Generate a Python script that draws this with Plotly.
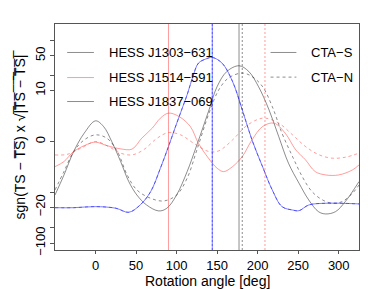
import numpy as np
import plotly.graph_objects as go

# ---------------- data ----------------
x_j1303_s = [-50, -39, -27, -14, 0, 10, 20, 31, 41, 51, 63, 78, 88, 100, 113, 125, 140, 150, 162, 177,
             189, 201, 214, 226, 238, 251, 263, 275, 284, 296, 308, 325]
y_j1303_s = [-11.2, -4.0, -0.66, 0.53, 1.77, 1.11, 0.0, -1.68, -5.7, -11.2, -18.0, -23.7, -20.9, -11.2,
             -3.26, -0.19, 3.6, 12.1, 24.5, 31.8, 24.5, 12.1, 3.6, 0.29, -1.89, -6.2, -14.2, -24.5,
             -27.2, -24.5, -15.4, -5.7]

x_j1303_n = [-50, -39, -27, -14, 0, 14, 27, 39, 51, 68, 84, 100, 113, 125, 140, 152, 164, 181, 193,
             206, 218, 230, 243, 255, 267, 280, 292, 304, 317, 325]
y_j1303_n = [-8.75, -3.26, -0.66, 0.09, 0.41, 0.19, -0.66, -3.96, -8.75, -13.1, -14.9, -11.2, -4.75,
             -0.53, 2.96, 10.3, 18.1, 22.8, 19.4, 12.1, 4.35, 0.53, -1.11, -4.35, -9.5, -14.2, -16.6,
             -15.4, -10.3, -6.8]

x_j1514_s = [-50, -39, -27, -10, 0, 14, 31, 45, 57, 70, 80, 90, 103, 117, 127, 139, 150, 158, 169,
             181, 193, 206, 220, 234, 247, 259, 271, 284, 300, 317, 325]
y_j1514_s = [-2.39, -1.68, -0.66, -0.15, -0.03, -0.23, -0.45, -0.47, 0.19, 0.96, 2.14, 2.96, 2.39,
             1.11, -0.1, -1.25, -2.65, -3.26, -2.39, -1.11, 0.09, 1.11, 1.49, 0.53, -0.53, -1.47,
             -3.26, -3.96, -3.96, -2.94, -2.13]

x_j1514_n = [-50, -35, -18, 0, 16, 31, 45, 59, 76, 90, 105, 121, 140, 152, 169, 185, 201, 210, 226,
             243, 259, 276, 292, 308, 325]
y_j1514_n = [-0.95, -0.9, -0.40, 0.0, -0.29, -0.79, -0.95, -0.53, 0.19, 0.58, 0.41, -0.09, -0.66,
             -0.6, 0.09, 1.11, 2.0, 2.14, 1.49, 0.41, -0.29, -0.95, -1.28, -1.18, -0.79]

x_j1837 = [-50, -27, 0, 25, 41, 55, 68, 80, 90, 98, 107, 113, 120, 127, 136, 144, 156, 169, 181,
           193, 206, 218, 230, 243, 251, 263, 284, 325]
y_j1837_s = [-20.4, -20.4, -19.4, -20.9, -25.2, -18.0, -9.5, -2.65, -0.29, 0.96, 3.98, 8.07, 19.2,
             35.9, 43.1, 46.3, 35.9, 15.4, 3.61, 0.09, -2.39, -8.75, -19.4, -22.7, -23.4, -18.0,
             -16.6, -17.1]
y_j1837_n = [-20.4, -20.4, -19.4, -20.9, -25.2, -18.0, -9.5, -2.65, -0.29, 0.96, 3.98, 8.07, 19.2,
             35.9, 43.1, 46.3, 35.9, 15.4, 3.61, 0.09, -2.39, -8.75, -19.4, -22.7, -23.4, -18.0,
             -16.6, -17.1]

# best rotation angles (vertical markers)
best_s = {"HESS J1303−631": 177, "HESS J1514−591": 90, "HESS J1837−069": 144}
best_n = {"HESS J1303−631": 181, "HESS J1514−591": 209, "HESS J1837−069": 144}

source_names = ["HESS J1303−631", "HESS J1514−591", "HESS J1837−069"]
source_colors = ["rgba(0,0,0,0.45)", "rgba(255,60,60,0.5)", "rgba(40,40,255,0.6)"]
array_names = ["CTA−S", "CTA−N"]

y_tick_vals = [100, 50, 20, 10, 0, -10, -20, -50, -100]
y_tick_text = ["", "50", "", "10", "0", "", "−20", "", "−100"]
x_tick_vals = [0, 50, 100, 150, 200, 250, 300]

# ---------------- axis transform ----------------
def f(v):
    v = np.asarray(v, dtype=float)
    return np.sign(v) * np.log1p(np.abs(v) / 1.2)

FONT = "Liberation Sans, Arial, Helvetica, sans-serif"
fig = go.Figure()

series = [
    (x_j1303_s, y_j1303_s, 0, "solid"),
    (x_j1303_n, y_j1303_n, 0, "3px,3px"),
    (x_j1514_s, y_j1514_s, 1, "solid"),
    (x_j1514_n, y_j1514_n, 1, "3px,3px"),
    (x_j1837, y_j1837_s, 2, "solid"),
    (x_j1837, y_j1837_n, 2, "3px,3px"),
]
for xs, ys, ci, dash in series:
    fig.add_trace(go.Scatter(x=xs, y=f(ys), mode="lines", line_shape="spline",
                             line=dict(color=source_colors[ci], width=1, dash=dash, smoothing=1.0),
                             showlegend=False, hoverinfo="skip"))

for i, name in enumerate(source_names):
    fig.add_vline(x=best_s[name], line=dict(color=source_colors[i], width=1, dash="solid"))
    fig.add_vline(x=best_n[name], line=dict(color=source_colors[i], width=1, dash="2px,2px"))

# ---------------- legends (inside plot, two groups) ----------------
rows_left = [0.874, 0.763, 0.657]
for i, name in enumerate(source_names):
    fig.add_shape(type="line", xref="paper", yref="paper", x0=0.040, x1=0.128,
                  y0=rows_left[i], y1=rows_left[i], line=dict(color=source_colors[i], width=1))
    fig.add_annotation(xref="paper", yref="paper", x=0.172, y=rows_left[i], text=name,
                       showarrow=False, xanchor="left", yanchor="middle",
                       font=dict(family=FONT, size=13, color="black"))
rows_right = [0.874, 0.765]
dashes = ["solid", "3px,3px"]
for i, name in enumerate(array_names):
    fig.add_shape(type="line", xref="paper", yref="paper", x0=0.709, x1=0.794,
                  y0=rows_right[i], y1=rows_right[i],
                  line=dict(color=source_colors[0], width=1, dash=dashes[i]))
    fig.add_annotation(xref="paper", yref="paper", x=0.836, y=rows_right[i], text=name,
                       showarrow=False, xanchor="left", yanchor="middle",
                       font=dict(family=FONT, size=13, color="black"))

# x-axis title
fig.add_annotation(xref="paper", yref="paper", x=0.5, y=-0.139, text="Rotation angle [deg]",
                   showarrow=False, xanchor="center", yanchor="middle",
                   font=dict(family=FONT, size=14, color="black"))

ov = "\u0305"
radicand = "".join(c + ov for c in "|TS − TS|")
ytitle = "sgn(TS − T" + ov + "S" + ov + ") x √" + radicand

# the page body has an 8px default margin, so the figure is sized 8px smaller
fig.update_layout(
    width=366, height=281,
    margin=dict(l=47, r=15, t=16, b=39),
    plot_bgcolor="white", paper_bgcolor="white",
    font=dict(family=FONT, size=13, color="black"),
    showlegend=False,
)
fig.update_xaxes(range=[-50, 325], tickvals=x_tick_vals, ticks="outside", ticklen=3,
                 tickcolor="#555", showline=True, linecolor="#555", linewidth=1, mirror=True,
                 showgrid=False, zeroline=False, automargin=False,
                 tickfont=dict(size=13))
fig.update_yaxes(range=[-4.74, 5.14], tickvals=f(y_tick_vals), ticktext=y_tick_text,
                 ticks="outside", ticklen=4, tickcolor="#555", showline=True, linecolor="#555",
                 linewidth=1, mirror=True, showgrid=False, zeroline=False, tickangle=-90,
                 automargin=False,
                 title=dict(text=ytitle, font=dict(size=14), standoff=3),
                 tickfont=dict(size=13))

fig.write_html("out.html")
